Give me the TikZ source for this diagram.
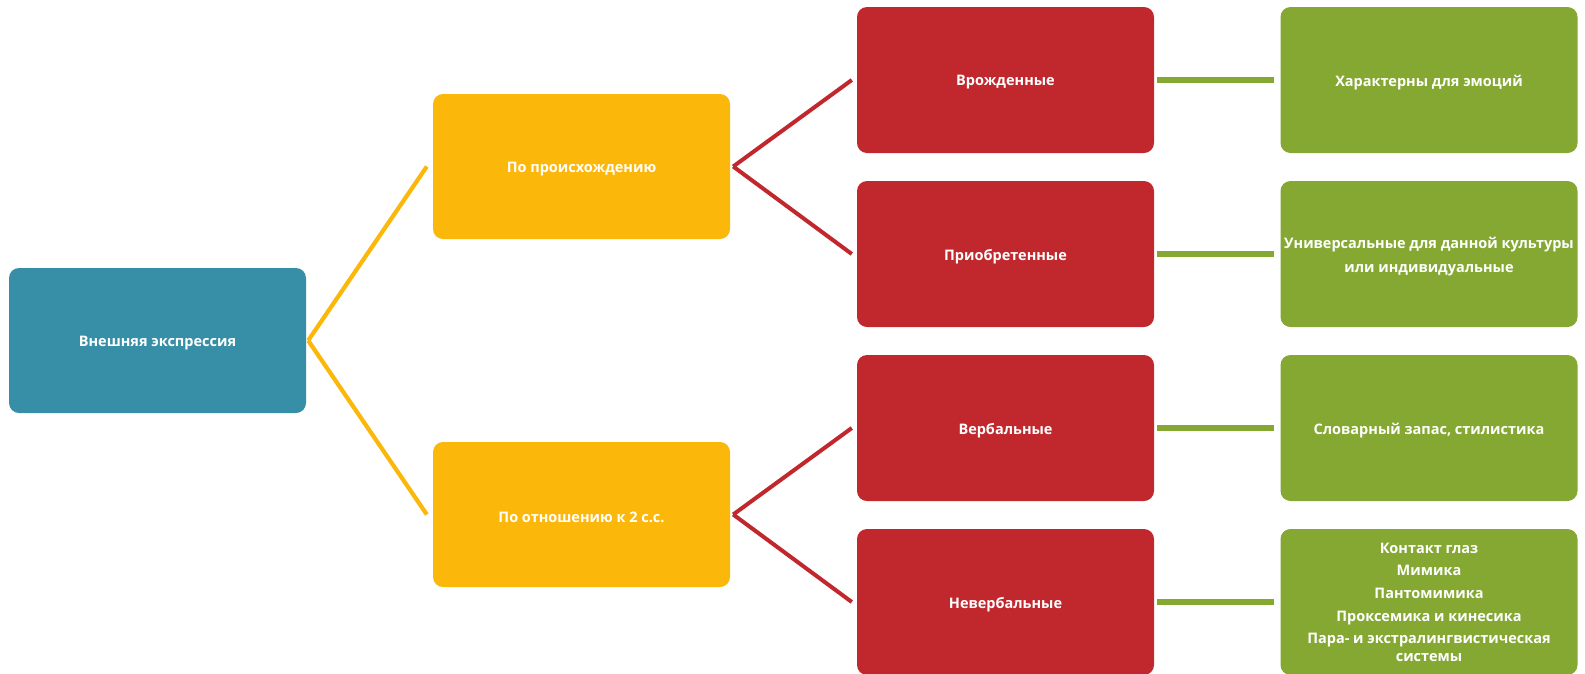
\documentclass[tikz,border=0pt]{standalone}
\usepackage{fontspec}
\setmainfont{Open Sans}
\definecolor{cblue}{RGB}{54,143,166}
\definecolor{cyellow}{RGB}{252,183,11}
\definecolor{cred}{RGB}{193,40,45}
\definecolor{cgreen}{RGB}{133,168,51}
\newcommand{\lowtxt}[1]{\raisebox{-2.5pt}[\height][\depth]{#1}}
\tikzset{
  box/.style={rectangle, rounded corners=10pt, minimum width=297pt, minimum height=146pt,
    inner sep=0pt, text=white, align=center, font=\fontsize{14.5}{17.3}\selectfont\bfseries},
  bluebox/.style={box, fill=cblue},
  yellowbox/.style={box, fill=cyellow},
  redbox/.style={box, fill=cred},
  greenbox/.style={box, fill=cgreen},
  yline/.style={draw=cyellow, line width=4.2pt},
  rline/.style={draw=cred, line width=4pt},
  gline/.style={draw=cgreen, line width=5.3pt},
}
\begin{document}
\begin{tikzpicture}[x=1pt,y=-1pt]
\useasboundingbox (0,0) rectangle (1585,673);
\clip (0,0) rectangle (1585,673);
\node[bluebox, minimum height=145pt] (root) at (157.5,340.5) {\lowtxt{Внешняя экспрессия}};
\node[yellowbox, minimum height=145pt] (y1) at (581.5,166.5) {\lowtxt{По происхождению}};
\node[yellowbox, minimum height=145pt] (y2) at (581.5,514.5) {\lowtxt{По отношению к 2 с.с.}};
\node[redbox] (r1) at (1005.5,80) {\lowtxt{Врожденные}};
\node[redbox] (r2) at (1005.5,254) {\lowtxt{Приобретенные}};
\node[redbox] (r3) at (1005.5,428) {\lowtxt{Вербальные}};
\node[redbox] (r4) at (1005.5,602) {\lowtxt{Невербальные}};
\node[greenbox] (g1) at (1429,80) {\lowtxt{Характерны для эмоций}};
\node[greenbox] (g2) at (1429,254) {\lowtxt{Универсальные для данной культуры}\\[7.4pt]\lowtxt{или индивидуальные}};
\node[greenbox] (g3) at (1429,428) {\lowtxt{Словарный запас, стилистика}};
\node[greenbox] (g4) at (1429,602) {Контакт глаз\\[5.4pt]Мимика\\[5.4pt]Пантомимика\\[5.4pt]Проксемика и кинесика\\[5.4pt]Пара- и экстралингвистическая\\системы};
\draw[yline] ([xshift=2pt]root.east) -- ([xshift=-6pt]y1.west);
\draw[yline] ([xshift=2pt]root.east) -- ([xshift=-6pt]y2.west);
\draw[rline] ([xshift=3pt]y1.east) -- ([xshift=-5pt]r1.west);
\draw[rline] ([xshift=3pt]y1.east) -- ([xshift=-5pt]r2.west);
\draw[rline] ([xshift=3pt]y2.east) -- ([xshift=-5pt]r3.west);
\draw[rline] ([xshift=3pt]y2.east) -- ([xshift=-5pt]r4.west);
\draw[gline] ([xshift=3pt]r1.east) -- ([xshift=-6pt]g1.west);
\draw[gline] ([xshift=3pt]r2.east) -- ([xshift=-6pt]g2.west);
\draw[gline] ([xshift=3pt]r3.east) -- ([xshift=-6pt]g3.west);
\draw[gline] ([xshift=3pt]r4.east) -- ([xshift=-6pt]g4.west);
\end{tikzpicture}
\end{document}
